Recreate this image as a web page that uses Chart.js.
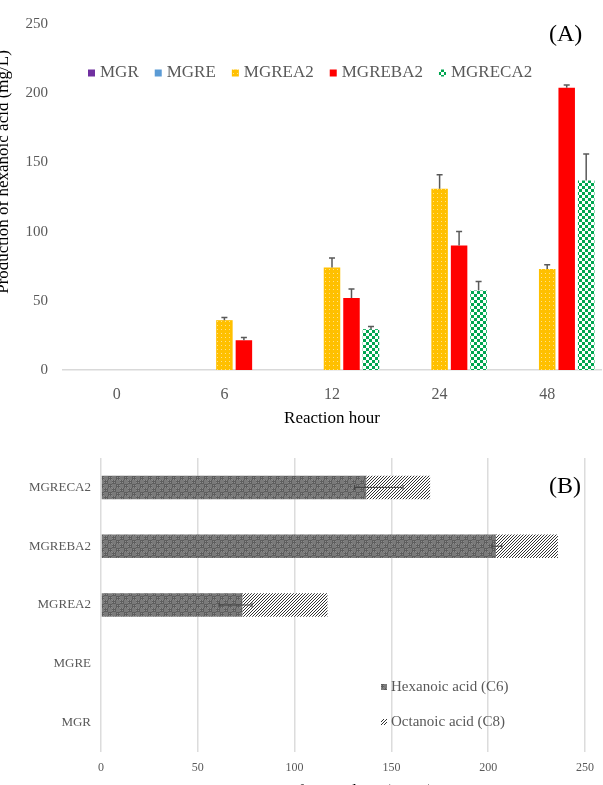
<!DOCTYPE html>
<html>
<head>
<meta charset="utf-8">
<script src="https://cdn.jsdelivr.net/npm/chart.js@4.4.1/dist/chart.umd.min.js"></script>
<style>
  html, body { margin: 0; padding: 0; background: #fff; overflow: hidden; }
  #page { position: relative; width: 603px; height: 785px; overflow: hidden; }
  #chartA { position: absolute; left: 0; top: 0; }
  #chartB { position: absolute; left: 0; top: 440px; }
  .tag { position: absolute; font-family: 'Liberation Serif', serif; font-size: 24px; line-height: 28px; color: #000; }
</style>
</head>
<body>
<div id="page">
  <canvas id="chartA" width="603" height="440"></canvas>
  <canvas id="chartB" width="603" height="364"></canvas>
  <div class="tag" style="left:549px; top:19px;">(A)</div>
  <div class="tag" style="left:549px; top:471px;">(B)</div>
</div>
<script>
// panel A: production over reaction time
const hours = ['0', '6', '12', '24', '48'];
const mgr = [0, 0, 0, 0, 0];
const mgre = [0, 0, 0, 0, 0];
const mgrea2 = [0, 36, 74, 131, 73];
const mgreba2 = [0, 21.5, 52, 90, 204];
const mgreca2 = [0, 0, 29.5, 57.5, 137];
const mgrea2Err = [0, 2, 7, 10, 3];
const mgreba2Err = [0, 2, 6.5, 10, 2];
const mgreca2Err = [0, 0, 2, 6.5, 19];

// panel B: C6 + C8 titer per strain (top to bottom)
const strainsB = ['MGRECA2', 'MGREBA2', 'MGREA2', 'MGRE', 'MGR'];
const hexanoic = [137, 204, 73, 0, 0];
const octanoic = [33, 32, 44, 0, 0];
const hexanoicErrHigh = [19, 3, 5, 0, 0];
const hexanoicErrLow = [6, 2, 12, 0, 0];

const serif = 'Liberation Serif';
const tickGray = '#595959';

// small tiled fills
function makePattern(size, draw) {
    const c = document.createElement('canvas');
    c.width = c.height = size;
    const g = c.getContext('2d');
    draw(g);
    return g.createPattern(c, 'repeat');
}
const yellowDots = makePattern(4, g => {
    g.fillStyle = '#FFC000'; g.fillRect(0, 0, 4, 4);
    g.fillStyle = '#FFE28A'; g.fillRect(1, 1, 1, 1);
});
const greenCheck = makePattern(6, g => {
    g.fillStyle = '#ffffff'; g.fillRect(0, 0, 6, 6);
    g.fillStyle = '#00A650'; g.fillRect(0, 0, 3, 3); g.fillRect(3, 3, 3, 3);
});
const grayCheck = makePattern(8, g => {
    g.fillStyle = '#5e5e5e'; g.fillRect(0, 0, 8, 8);
    g.fillStyle = '#8c8c8c';
    for (let i = 0; i < 4; i += 2) {
        for (let j = 0; j < 4; j += 2) {
            g.fillRect(i, j, 1, 1);
            g.fillRect(4 + i + 1, 4 + j + 1, 1, 1);
        }
    }
    g.fillStyle = '#7a7a7a'; g.fillRect(4, 0, 4, 4); g.fillRect(0, 4, 4, 4);
});
const hatch = makePattern(3, g => {
    g.fillStyle = '#ffffff'; g.fillRect(0, 0, 3, 3);
    g.fillStyle = '#333333';
    g.fillRect(2, 0, 1, 1); g.fillRect(1, 1, 1, 1); g.fillRect(0, 2, 1, 1);
});

// legend drawn inside the plot area
const boxLegend = {
    id: 'boxLegend',
    afterDraw(chart, args, o) {
        const ctx = chart.ctx;
        ctx.save();
        ctx.font = o.font;
        ctx.textBaseline = 'middle';
        let x = o.x, y = o.y;
        chart.data.datasets.forEach(ds => {
            ctx.fillStyle = ds.backgroundColor;
            ctx.fillRect(x, y - o.box / 2, o.box, o.box);
            ctx.fillStyle = o.color;
            ctx.fillText(ds.label, x + o.box + o.gap, y);
            if (o.vertical) y += o.step;
            else x += o.box + o.gap + ctx.measureText(ds.label).width + o.step;
        });
        ctx.restore();
    }
};

// error bars: vertical bars get the plus side only, horizontal ones both sides
const errorBars = {
    id: 'errorBars',
    afterDatasetsDraw(chart, args, o) {
        const ctx = chart.ctx;
        const horizontal = chart.options.indexAxis === 'y';
        const vScale = horizontal ? chart.scales.x : chart.scales.y;
        ctx.save();
        ctx.strokeStyle = o.color;
        ctx.lineWidth = o.width;
        chart.data.datasets.forEach((ds, i) => {
            if (!ds.errors) return;
            chart.getDatasetMeta(i).data.forEach((bar, j) => {
                const e = ds.errors[j];
                if (!e) return;
                const v = ds.data[j];
                ctx.beginPath();
                if (horizontal) {
                    const low = ds.errorsLow ? ds.errorsLow[j] : e;
                    const a = vScale.getPixelForValue(v - low);
                    const b = vScale.getPixelForValue(v + e);
                    ctx.moveTo(a, bar.y); ctx.lineTo(b, bar.y);
                    ctx.moveTo(a, bar.y - o.cap); ctx.lineTo(a, bar.y + o.cap);
                    ctx.moveTo(b, bar.y - o.cap); ctx.lineTo(b, bar.y + o.cap);
                } else {
                    const top = vScale.getPixelForValue(v + e);
                    ctx.moveTo(bar.x, bar.y); ctx.lineTo(bar.x, top);
                    ctx.moveTo(bar.x - o.cap, top); ctx.lineTo(bar.x + o.cap, top);
                }
                ctx.stroke();
            });
        });
        ctx.restore();
    }
};

// rotated y title, partly cut by the left edge like the original
const sideTitle = {
    id: 'sideTitle',
    afterDraw(chart, args, o) {
        const ctx = chart.ctx;
        ctx.save();
        ctx.translate(o.x, o.y);
        ctx.rotate(-Math.PI / 2);
        ctx.font = o.font;
        ctx.fillStyle = o.color;
        ctx.textAlign = 'center';
        ctx.textBaseline = 'alphabetic';
        ctx.fillText(o.text, 0, 0);
        ctx.restore();
    }
};

new Chart(document.getElementById('chartA'), {
    type: 'bar',
    data: {
        labels: hours,
        datasets: [
            { label: 'MGR', data: mgr, backgroundColor: '#7030A0' },
            { label: 'MGRE', data: mgre, backgroundColor: '#5B9BD5' },
            { label: 'MGREA2', data: mgrea2, errors: mgrea2Err, backgroundColor: yellowDots },
            { label: 'MGREBA2', data: mgreba2, errors: mgreba2Err, backgroundColor: '#FF0000' },
            { label: 'MGRECA2', data: mgreca2, errors: mgreca2Err, backgroundColor: greenCheck }
        ]
    },
    options: {
        responsive: false,
        animation: false,
        datasets: { bar: { categoryPercentage: 0.906, barPercentage: 0.846, borderWidth: 0 } },
        layout: { padding: { top: 20, right: 2, left: 0, bottom: 0 } },
        plugins: {
            legend: { display: false },
            tooltip: { enabled: false },
            boxLegend: { x: 88, y: 73, box: 7, gap: 5, step: 16, font: '17px "' + serif + '"', color: tickGray },
            errorBars: { color: '#595959', width: 1.5, cap: 3 },
            sideTitle: { x: 8, y: 172, text: 'Production of hexanoic acid (mg/L)', font: '17px "' + serif + '"', color: '#000' }
        },
        scales: {
            x: {
                grid: { display: false, drawTicks: false },
                border: { display: true, color: '#d9d9d9', width: 1.5 },
                ticks: { padding: 15, color: tickGray, font: { family: serif, size: 16 } },
                title: { display: true, text: 'Reaction hour', color: '#000', font: { family: serif, size: 17 }, padding: { top: 0, bottom: 11 } },
                afterFit: s => { s.height = 70; }
            },
            y: {
                min: 0,
                max: 250,
                grid: { display: false, drawTicks: false },
                border: { display: false },
                ticks: { stepSize: 50, padding: 15, color: tickGray, font: { family: serif, size: 15 } },
                afterFit: s => { s.width = 63; }
            }
        }
    },
    plugins: [boxLegend, errorBars, sideTitle]
});

new Chart(document.getElementById('chartB'), {
    type: 'bar',
    data: {
        labels: strainsB,
        datasets: [
            { label: 'Hexanoic acid (C6)', data: hexanoic, errors: hexanoicErrHigh, errorsLow: hexanoicErrLow, backgroundColor: grayCheck },
            { label: 'Octanoic acid (C8)', data: octanoic, backgroundColor: hatch }
        ]
    },
    options: {
        indexAxis: 'y',
        responsive: false,
        animation: false,
        datasets: { bar: { barPercentage: 0.4, categoryPercentage: 1, borderWidth: 0 } },
        layout: { padding: { top: 18, right: 12, left: 0, bottom: 0 } },
        plugins: {
            legend: { display: false },
            tooltip: { enabled: false },
            boxLegend: { x: 381, y: 247, vertical: true, step: 35, box: 6, gap: 4, font: '15px "' + serif + '"', color: tickGray },
            errorBars: { color: '#404040', width: 1, cap: 2.5 }
        },
        scales: {
            x: {
                stacked: true,
                min: 0,
                max: 250,
                grid: { color: '#dcdcdc', lineWidth: 1.5, drawTicks: false },
                border: { display: false },
                ticks: { stepSize: 50, padding: 9, color: tickGray, font: { family: serif, size: 12 } },
                title: { display: true, text: 'Titer of C6 and C8 (mg/L)', color: '#000', font: { family: serif, size: 17 }, padding: { top: 0, bottom: 2 } },
                afterFit: s => { s.height = 52; }
            },
            y: {
                stacked: true,
                grid: { display: false, drawTicks: false },
                border: { display: false },
                ticks: { padding: 10, color: tickGray, font: { family: serif, size: 13 } },
                afterFit: s => { s.width = 101; }
            }
        }
    },
    plugins: [boxLegend, errorBars]
});
</script>
</body>
</html>
